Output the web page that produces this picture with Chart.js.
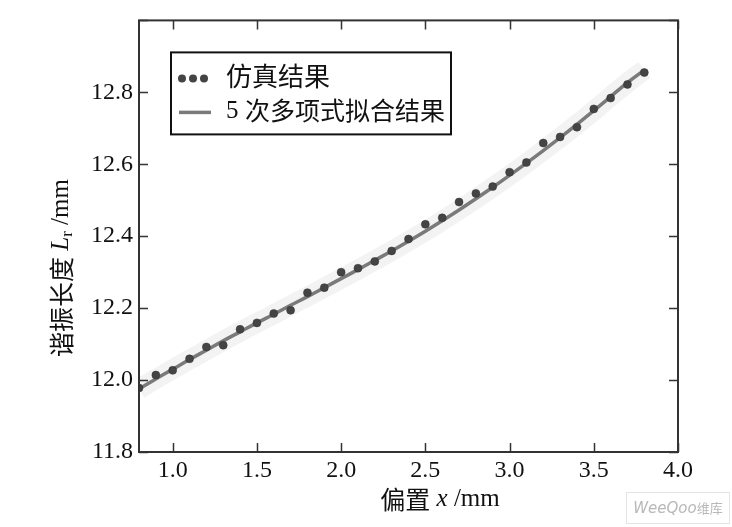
<!DOCTYPE html>
<html>
<head>
<meta charset="utf-8">
<script src="https://cdn.jsdelivr.net/npm/chart.js@4"></script>
<style>
  html, body { margin: 0; padding: 0; background: #fff; }
  #wrap { position: relative; width: 732px; height: 527px; }
  #mark { position: absolute; left: 626px; top: 492px; width: 102px; height: 30px;
          border: 1px solid #e4e4e4; font: italic 15px "DejaVu Sans", sans-serif; color: #b8b8b8;
          line-height: 30px; text-align: center; }
  #mark span { font-style: normal; font-family: "Noto Sans CJK SC"; font-size: 13px; }
</style>
</head>
<body>
<div id="wrap">
  <canvas id="chart" width="732" height="527"></canvas>
  <div id="mark">WeeQoo<span>维库</span></div>
</div>
<script>
// x positions (mm)
const xVals = [0.8, 0.9, 1.0, 1.1, 1.2, 1.3, 1.4, 1.5, 1.6, 1.7, 1.8, 1.9, 2.0, 2.1, 2.2, 2.3,
               2.4, 2.5, 2.6, 2.7, 2.8, 2.9, 3.0, 3.1, 3.2, 3.3, 3.4, 3.5, 3.6, 3.7, 3.8];
// 仿真结果
const simValues = [11.978, 12.014, 12.027, 12.059, 12.092, 12.097, 12.141, 12.159, 12.185, 12.194,
                   12.243, 12.257, 12.300, 12.311, 12.330, 12.359, 12.392, 12.433, 12.451, 12.495,
                   12.519, 12.538, 12.578, 12.605, 12.659, 12.676, 12.703, 12.754, 12.784, 12.822, 12.855];
// 5 次多项式拟合结果
const fitValues = [11.975, 12.003, 12.030, 12.057, 12.083, 12.109, 12.134, 12.159, 12.183, 12.208,
                   12.232, 12.257, 12.282, 12.307, 12.333, 12.359, 12.386, 12.414, 12.443, 12.473,
                   12.504, 12.536, 12.569, 12.603, 12.638, 12.674, 12.711, 12.749, 12.788, 12.827, 12.862];

const xTicks = [1.0, 1.5, 2.0, 2.5, 3.0, 3.5, 4.0];
const yTicks = [11.8, 12.0, 12.2, 12.4, 12.6, 12.8];

const serif = 'Liberation Serif';
const cjk = 'Noto Sans CJK SC';

const simPoints = xVals.map((x, i) => ({ x: x, y: simValues[i] }));
const fitPoints = xVals.map((x, i) => ({ x: x, y: fitValues[i] }));

// frame, inward ticks, legend box and axis titles
const decor = {
    id: 'decor',
    afterDraw(chart) {
        const ctx = chart.ctx;
        const a = chart.chartArea;
        const xs = chart.scales.x, ys = chart.scales.y;
        ctx.save();
        ctx.strokeStyle = '#333';
        ctx.lineWidth = 2;
        ctx.strokeRect(a.left, a.top, a.right - a.left, a.bottom - a.top);

        ctx.lineWidth = 1.5;
        ctx.beginPath();
        xTicks.forEach(v => {
            const px = Math.round(xs.getPixelForValue(v)) + 0.5;
            ctx.moveTo(px, a.bottom); ctx.lineTo(px, a.bottom - 9);
            ctx.moveTo(px, a.top); ctx.lineTo(px, a.top + 9);
        });
        yTicks.concat([13.0]).forEach(v => {
            const py = Math.round(ys.getPixelForValue(v)) + 0.5;
            ctx.moveTo(a.left, py); ctx.lineTo(a.left + 9, py);
            ctx.moveTo(a.right, py); ctx.lineTo(a.right - 9, py);
        });
        ctx.stroke();

        // legend
        const lx = a.left + 32, ly = a.top + 32;
        ctx.fillStyle = '#fff';
        ctx.fillRect(lx, ly, 280, 82);
        ctx.strokeStyle = '#111';
        ctx.lineWidth = 2;
        ctx.strokeRect(lx, ly, 280, 82);
        ctx.fillStyle = '#444';
        [11, 22, 33].forEach(dx => {
            ctx.beginPath();
            ctx.arc(lx + dx, ly + 26, 4, 0, Math.PI * 2);
            ctx.fill();
        });
        ctx.strokeStyle = '#7a7a7a';
        ctx.lineWidth = 3.5;
        ctx.beginPath();
        ctx.moveTo(lx + 8, ly + 60); ctx.lineTo(lx + 40, ly + 60);
        ctx.stroke();

        ctx.fillStyle = '#111';
        ctx.textBaseline = 'middle';
        ctx.textAlign = 'left';
        ctx.font = '26px "' + cjk + '"';
        ctx.fillText('仿真结果', lx + 55, ly + 24);
        ctx.font = '25px "' + serif + '"';
        ctx.fillText('5', lx + 55, ly + 59);
        ctx.font = '25px "' + cjk + '"';
        ctx.fillText('次多项式拟合结果', lx + 74, ly + 58);

        // x title
        const parts = [['偏置', '25px "' + cjk + '"'], [' ', '25px "' + serif + '"'],
                       ['x', 'italic 25px "' + serif + '"'], [' /mm', '25px "' + serif + '"']];
        let w = 0;
        parts.forEach(p => { ctx.font = p[1]; w += ctx.measureText(p[0]).width; });
        let cx = 440 - w / 2;
        parts.forEach(p => { ctx.font = p[1]; ctx.fillText(p[0], cx, 499); cx += ctx.measureText(p[0]).width; });

        // y title (rotated)
        ctx.translate(61, 268);
        ctx.rotate(-Math.PI / 2);
        const yp = [['谐振长度', '25px "' + cjk + '"', 0], [' ', '25px "' + serif + '"', 0],
                    ['L', 'italic 25px "' + serif + '"', 0], ['r', '17px "' + serif + '"', 7],
                    [' /mm', '25px "' + serif + '"', 0]];
        w = 0;
        yp.forEach(p => { ctx.font = p[1]; w += ctx.measureText(p[0]).width; });
        cx = -w / 2;
        yp.forEach(p => { ctx.font = p[1]; ctx.fillText(p[0], cx, p[2]); cx += ctx.measureText(p[0]).width; });
        ctx.restore();
    }
};

const ctx = document.getElementById('chart').getContext('2d');
new Chart(ctx, {
    type: 'scatter',
    data: {
        datasets: [
            {
                label: '仿真结果',
                data: simPoints,
                pointRadius: 4,
                pointBackgroundColor: '#444',
                pointBorderColor: '#333',
                pointBorderWidth: 0.5,
                order: 0
            },
            {
                label: '5 次多项式拟合结果',
                data: fitPoints,
                showLine: true,
                pointRadius: 0,
                borderColor: '#7a7a7a',
                borderWidth: 3.5,
                tension: 0.4,
                order: 1
            },
            {
                label: 'scatter cloud',
                data: fitPoints,
                showLine: true,
                pointRadius: 0,
                borderColor: 'rgba(215,215,215,0.3)',
                borderWidth: 20,
                tension: 0.4,
                clip: 0,
                order: 2
            }
        ]
    },
    options: {
        responsive: false,
        animation: false,
        layout: { padding: { top: 10, right: 54, left: 0, bottom: 0 } },
        plugins: { legend: { display: false }, tooltip: { enabled: false } },
        scales: {
            x: {
                type: 'linear',
                min: 0.8,
                max: 4.0,
                afterBuildTicks: s => { s.ticks = xTicks.map(v => ({ value: v })); },
                afterFit: s => { s.height = 75; },
                grid: { display: false, drawTicks: false },
                border: { display: false },
                ticks: {
                    padding: 4,
                    color: '#111',
                    font: { family: serif, size: 24 },
                    callback: v => v.toFixed(1)
                }
            },
            y: {
                min: 11.8,
                max: 13.0,
                afterBuildTicks: s => { s.ticks = yTicks.map(v => ({ value: v })); },
                afterFit: s => { s.width = 139; },
                grid: { display: false, drawTicks: false },
                border: { display: false },
                ticks: {
                    padding: 6,
                    color: '#111',
                    font: { family: serif, size: 24 },
                    callback: v => v.toFixed(1)
                }
            }
        }
    },
    plugins: [decor]
});
</script>
</body>
</html>
